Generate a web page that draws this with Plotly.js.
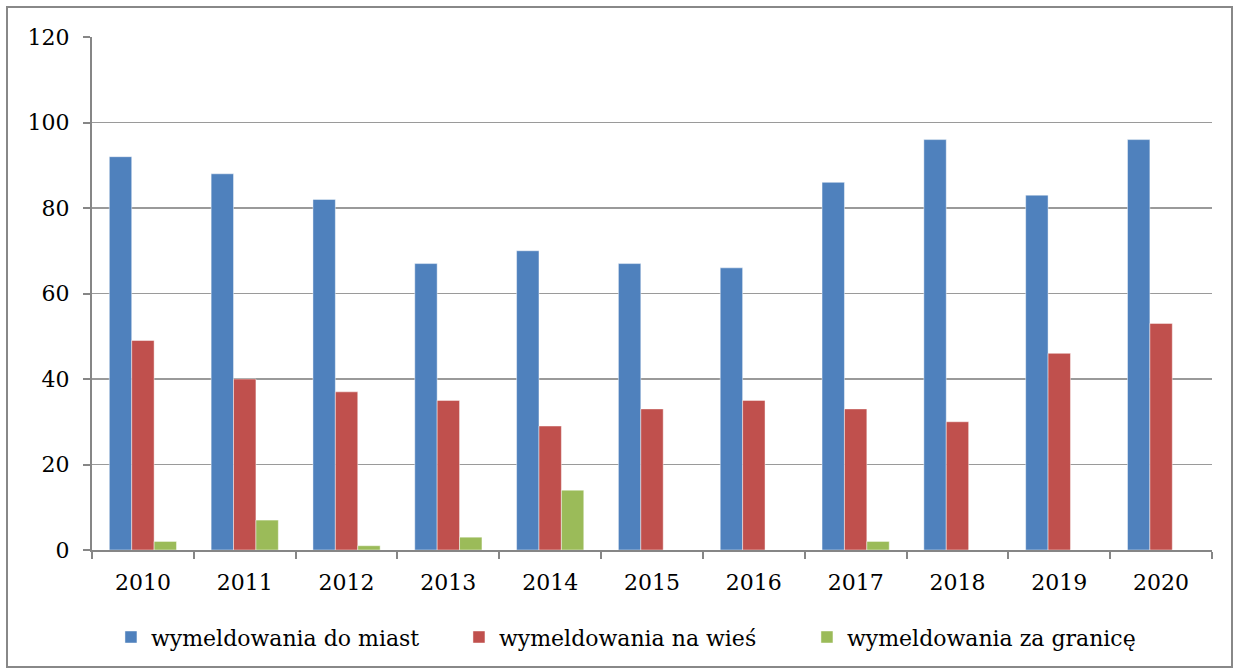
<!DOCTYPE html>
<html>
<head>
<meta charset="utf-8">
<script src="https://cdn.plot.ly/plotly-3.0.1.min.js"></script>
<style>
html,body{margin:0;padding:0;background:#fff;}
#chart{width:1239px;height:670px;}
</style>
</head>
<body>
<div id="chart"></div>
<script>
const years = ['2010','2011','2012','2013','2014','2015','2016','2017','2018','2019','2020'];
const doMiast = [92, 88, 82, 67, 70, 67, 66, 86, 96, 83, 96];
const naWies = [49, 40, 37, 35, 29, 33, 35, 33, 30, 46, 53];
const zaGranice = [2, 7, 1, 3, 14, 0, 0, 2, 0, 0, 0];
const seriesNames = ['wymeldowania do miast', 'wymeldowania na wieś', 'wymeldowania za granicę'];
const colors = ['#4F81BD', '#C0504D', '#9BBB59'];

const font = 'DejaVu Serif, Liberation Serif, serif';
const traces = [doMiast, naWies, zaGranice].map((vals, i) => ({
  type: 'bar',
  x: years,
  y: vals,
  name: seriesNames[i],
  marker: {color: colors[i], line: {color: 'rgba(255,255,255,0.45)', width: 1}},
  hoverinfo: 'x+y+name'
}));

const layout = {
  width: 1239,
  height: 670,
  margin: {l: 92, r: 27, t: 37, b: 120},
  paper_bgcolor: '#ffffff',
  plot_bgcolor: '#ffffff',
  barmode: 'group',
  bargap: 0.34,
  bargroupgap: 0,
  font: {family: font, size: 22, color: '#000'},
  xaxis: {
    type: 'category',
    showline: true,
    linecolor: '#868686',
    linewidth: 2,
    ticks: 'outside',
    tickson: 'boundaries',
    ticklen: 7,
    tickcolor: '#868686',
    tickwidth: 2,
    showgrid: false,
    ticklabelstandoff: 12,
    tickfont: {family: font, size: 22, color: '#000'},
    fixedrange: true
  },
  yaxis: {
    range: [0, 120],
    tick0: 0,
    dtick: 20,
    showline: true,
    linecolor: '#868686',
    linewidth: 2,
    ticks: 'outside',
    ticklen: 7,
    tickcolor: '#868686',
    tickwidth: 2,
    showgrid: true,
    gridcolor: '#9a9a9a',
    gridwidth: 1.5,
    zeroline: false,
    ticklabelstandoff: 9,
    tickfont: {family: font, size: 22, color: '#000'},
    fixedrange: true
  },
  showlegend: true,
  legend: {
    orientation: 'h',
    x: 0.483,
    xanchor: 'center',
    y: -0.17,
    yanchor: 'middle',
    font: {family: font, size: 22, color: '#000'},
    itemwidth: 30,
    entrywidth: 303,
    bgcolor: 'rgba(0,0,0,0)'
  },
  shapes: [{
    type: 'rect',
    xref: 'paper', yref: 'paper',
    x0: (7 - 92) / 1120, x1: (1232 - 92) / 1120,
    y0: (550 - 667) / 513, y1: (550 - 7) / 513,
    line: {color: '#888888', width: 2},
    fillcolor: 'rgba(0,0,0,0)',
    layer: 'below'
  }]
};

Plotly.newPlot('chart', traces, layout, {displayModeBar: false, staticPlot: true});
</script>
</body>
</html>
